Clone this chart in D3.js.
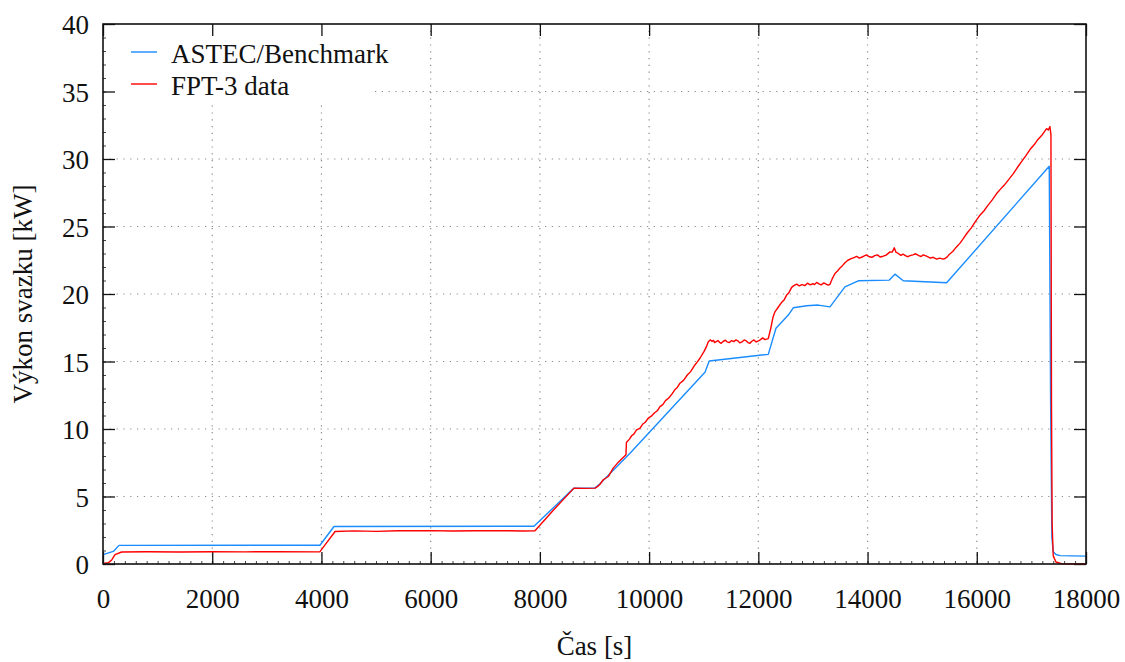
<!DOCTYPE html>
<html>
<head>
  <meta charset="utf-8">
  <title>Výkon svazku</title>
  <style>
    body { margin: 0; background: white; }
  </style>
  <script src="https://d3js.org/d3.v7.min.js"></script>
</head>
<body>
  <svg id="chart" width="1125" height="662"></svg>
  <script>
    // tick values
    const xTicks = [0, 2000, 4000, 6000, 8000, 10000, 12000, 14000, 16000, 18000];
    const yTicks = [0, 5, 10, 15, 20, 25, 30, 35, 40];

    // ASTEC/Benchmark [time s, power kW]
    const astec = [
      [0, 0.69], [189, 0.93], [293, 1.38], [3973, 1.39], [4230, 2.78], [7892, 2.8],
      [8624, 5.62], [9008, 5.62], [9100, 5.95], [9650, 8.2], [11023, 14.2], [11101, 15.04],
      [12182, 15.53], [12323, 17.46], [12549, 18.44], [12640, 18.98], [12884, 19.13],
      [13097, 19.18], [13312, 19.05], [13586, 20.53], [13830, 20.98], [14398, 21.03],
      [14502, 21.47], [14655, 20.98], [15448, 20.83], [17327, 29.46], [17352, 12],
      [17375, 2.0], [17400, 0.9], [17450, 0.7], [17523, 0.62], [18000, 0.58]
    ];

    // FPT-3 measured data [time s, power kW]
    const fpt3 = [
      [0, 0.05], [100, 0.1], [160, 0.3], [220, 0.69], [342, 0.89], [800, 0.91], [1400, 0.89],
      [2000, 0.91], [2600, 0.9], [3200, 0.91], [3970, 0.9], [4100, 1.6], [4250, 2.41],
      [4600, 2.45], [5000, 2.42], [5400, 2.46], [6000, 2.47], [6400, 2.44], [6800, 2.46],
      [7400, 2.47], [7700, 2.44], [7910, 2.46], [8250, 4.0], [8624, 5.62], [8800, 5.6],
      [9008, 5.62], [9060, 5.75], [9100, 5.9], [9160, 6.24], [9252, 6.48], [9343, 7.1],
      [9450, 7.6], [9576, 8.1], [9585, 9.0], [9640, 9.25], [9680, 9.5], [9720, 9.62],
      [9770, 9.93], [9830, 10.05], [9880, 10.35], [9930, 10.5], [9984, 10.8], [10040, 10.95],
      [10100, 11.2], [10150, 11.35], [10199, 11.66], [10250, 11.8], [10300, 12.1],
      [10360, 12.3], [10420, 12.6], [10480, 12.95], [10520, 13.1], [10565, 13.39],
      [10630, 13.6], [10700, 14.0], [10760, 14.25], [10830, 14.7], [10880, 14.95],
      [10931, 15.24], [11004, 15.73], [11050, 16.1], [11083, 16.46], [11120, 16.6],
      [11150, 16.5], [11180, 16.56], [11200, 16.4], [11230, 16.48], [11260, 16.55],
      [11290, 16.42], [11320, 16.35], [11360, 16.5], [11400, 16.58], [11430, 16.45],
      [11470, 16.4], [11510, 16.55], [11550, 16.47], [11590, 16.6], [11620, 16.55],
      [11660, 16.38], [11700, 16.45], [11740, 16.6], [11780, 16.52], [11810, 16.4],
      [11846, 16.35], [11880, 16.5], [11920, 16.6], [11960, 16.45], [12000, 16.52],
      [12040, 16.62], [12080, 16.75], [12120, 16.62], [12182, 16.7], [12230, 17.5],
      [12270, 18.3], [12304, 18.68], [12360, 19.0], [12420, 19.35], [12470, 19.55],
      [12518, 19.92], [12560, 20.1], [12610, 20.49], [12650, 20.62], [12701, 20.73],
      [12750, 20.6], [12800, 20.7], [12850, 20.62], [12900, 20.8], [12950, 20.68],
      [13000, 20.76], [13030, 20.7], [13068, 20.86], [13110, 20.75], [13150, 20.68],
      [13200, 20.82], [13240, 20.74], [13280, 20.66], [13312, 20.72], [13350, 21.1],
      [13403, 21.52], [13450, 21.7], [13500, 21.95], [13540, 22.1], [13586, 22.31],
      [13640, 22.5], [13700, 22.62], [13750, 22.7], [13800, 22.78], [13850, 22.66],
      [13900, 22.74], [13940, 22.82], [13983, 22.9], [14030, 22.76], [14080, 22.72],
      [14130, 22.84], [14180, 22.9], [14230, 22.74], [14288, 22.8], [14340, 22.88],
      [14411, 23.12], [14450, 23.1], [14490, 23.42], [14520, 23.1], [14563, 23.0],
      [14610, 22.86], [14650, 22.95], [14700, 22.82], [14740, 22.76], [14777, 22.84],
      [14830, 22.9], [14880, 22.98], [14940, 22.84], [14980, 22.78], [15020, 22.9],
      [15080, 22.8], [15150, 22.66], [15200, 22.72], [15265, 22.58], [15320, 22.66],
      [15380, 22.58], [15418, 22.63], [15460, 22.75], [15500, 22.95], [15560, 23.15],
      [15620, 23.45], [15690, 23.75], [15753, 24.1], [15820, 24.5], [15900, 24.9],
      [15980, 25.4], [16058, 25.84], [16130, 26.15], [16200, 26.55], [16280, 26.95],
      [16364, 27.44], [16430, 27.75], [16500, 28.05], [16580, 28.45], [16669, 28.92],
      [16740, 29.35], [16820, 29.8], [16900, 30.25], [16974, 30.7], [17050, 31.05],
      [17120, 31.45], [17200, 31.8], [17279, 32.25], [17310, 32.15], [17340, 32.4],
      [17358, 31.8], [17368, 12], [17380, 3], [17400, 0.6], [17450, 0.15], [17550, 0.02],
      [18000, 0]
    ];

    const fontFamily = "'Liberation Serif', 'DejaVu Serif', serif";
    const fontSize = 27;

    const svg = d3.select("#chart");
    const margin = {top: 24, right: 39, bottom: 98, left: 103};
    const width = 1125 - margin.left - margin.right,
          height = 662 - margin.top - margin.bottom;

    const g = svg.append("g")
      .attr("transform", `translate(${margin.left},${margin.top})`);

    const x = d3.scaleLinear().domain([0, 18000]).range([0, width]);
    const y = d3.scaleLinear().domain([0, 40]).range([height, 0]);

    // dotted grid
    g.append("g")
      .selectAll("line")
      .data(xTicks.slice(1, -1))
      .enter().append("line")
      .attr("x1", d => x(d)).attr("x2", d => x(d))
      .attr("y1", 0).attr("y2", height)
      .attr("stroke", "#8a8a8a").attr("stroke-width", 1.2)
      .attr("stroke-dasharray", "1.2,5.6");

    g.append("g")
      .selectAll("line")
      .data(yTicks.slice(1, -1))
      .enter().append("line")
      .attr("x1", 0).attr("x2", width)
      .attr("y1", d => y(d)).attr("y2", d => y(d))
      .attr("stroke", "#8a8a8a").attr("stroke-width", 1.2)
      .attr("stroke-dasharray", "1.2,5.6");

    // legend background hides the grid
    g.append("rect")
      .attr("x", 1).attr("y", 1)
      .attr("width", 271).attr("height", 79)
      .attr("fill", "white");

    // axes with inward ticks on all four sides
    const tickLen = 12;
    const axisLine = (sel) => sel.select(".domain").remove();

    g.append("g")
      .attr("transform", `translate(0,${height})`)
      .call(d3.axisBottom(x).tickValues(d3.range(0, 18001, 200)).tickSize(-3).tickFormat(""))
      .call(axisLine)
      .selectAll("line").attr("stroke", "#444");

    g.append("g")
      .call(d3.axisLeft(y).tickValues(d3.range(0, 41, 1)).tickSize(-3).tickFormat(""))
      .call(axisLine)
      .selectAll("line").attr("stroke", "#444");

    const xb = g.append("g")
      .attr("transform", `translate(0,${height})`)
      .call(d3.axisBottom(x).tickValues(xTicks).tickSize(-tickLen).tickFormat(d3.format("d")))
      .call(axisLine)
      .attr("font-family", fontFamily).attr("font-size", fontSize);
    xb.selectAll("line").attr("stroke", "#111").attr("stroke-width", 1.3);
    xb.selectAll("text")
      .attr("y", 44).attr("dy", null)
      .attr("fill", "#111");

    const yl = g.append("g")
      .call(d3.axisLeft(y).tickValues(yTicks).tickSize(-tickLen).tickFormat(d3.format("d")))
      .call(axisLine)
      .attr("font-family", fontFamily).attr("font-size", fontSize);
    yl.selectAll("line").attr("stroke", "#111").attr("stroke-width", 1.3);
    yl.selectAll("text")
      .attr("x", -14).attr("dy", "0.36em")
      .attr("fill", "#111");

    const xt = g.append("g")
      .call(d3.axisTop(x).tickValues(xTicks).tickSize(-tickLen).tickFormat(""))
      .call(axisLine);
    xt.selectAll("line").attr("stroke", "#111").attr("stroke-width", 1.3);

    const yr = g.append("g")
      .attr("transform", `translate(${width},0)`)
      .call(d3.axisRight(y).tickValues(yTicks).tickSize(-tickLen).tickFormat(""))
      .call(axisLine);
    yr.selectAll("line").attr("stroke", "#111").attr("stroke-width", 1.3);

    // data lines
    const line = d3.line().x(d => x(d[0])).y(d => y(d[1]));

    g.append("path")
      .datum(astec)
      .attr("fill", "none")
      .attr("stroke", "#1a8cff")
      .attr("stroke-width", 1.4)
      .attr("stroke-linejoin", "round")
      .attr("d", line);

    g.append("path")
      .datum(fpt3)
      .attr("fill", "none")
      .attr("stroke", "#ff0000")
      .attr("stroke-width", 1.4)
      .attr("stroke-linejoin", "round")
      .attr("d", line);

    // frame
    g.append("rect")
      .attr("width", width).attr("height", height)
      .attr("fill", "none")
      .attr("stroke", "#111").attr("stroke-width", 1.6);

    // legend
    const legendItems = [
      {name: "ASTEC/Benchmark", color: "#1a8cff"},
      {name: "FPT-3 data", color: "#ff0000"}
    ];
    const legend = g.append("g").attr("transform", "translate(28,28)");
    legendItems.forEach((item, i) => {
      legend.append("line")
        .attr("x1", 0).attr("x2", 26)
        .attr("y1", i * 32).attr("y2", i * 32)
        .attr("stroke", item.color).attr("stroke-width", 1.4);
      legend.append("text")
        .attr("x", 40).attr("y", i * 32 + 11)
        .attr("font-family", fontFamily).attr("font-size", fontSize)
        .attr("fill", "#111")
        .text(item.name);
    });

    // axis labels
    svg.append("text")
      .attr("x", margin.left + width / 2)
      .attr("y", 655)
      .attr("text-anchor", "middle")
      .attr("font-family", fontFamily).attr("font-size", fontSize)
      .attr("fill", "#111")
      .text("Čas [s]");

    svg.append("text")
      .attr("transform", `translate(32,${margin.top + height / 2}) rotate(-90)`)
      .attr("text-anchor", "middle")
      .attr("font-family", fontFamily).attr("font-size", fontSize)
      .attr("fill", "#111")
      .text("Výkon svazku [kW]");
  </script>
</body>
</html>
